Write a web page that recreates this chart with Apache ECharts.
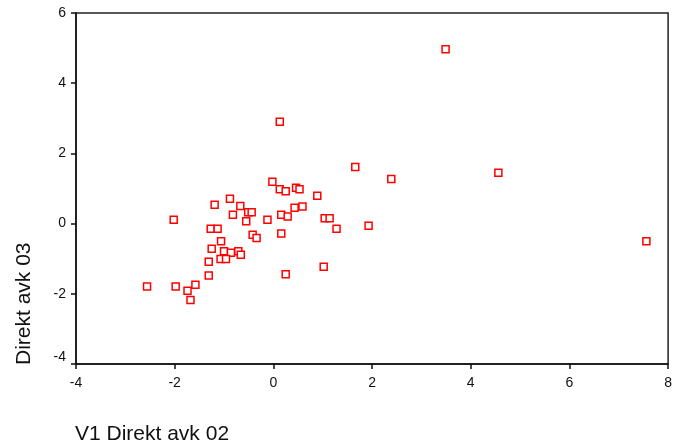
<!DOCTYPE html>
<html>
<head>
<meta charset="utf-8">
<script src="https://cdn.jsdelivr.net/npm/echarts@6/dist/echarts.min.js"></script>
<style>html,body{margin:0;padding:0;background:#fff}#c{width:675px;height:445px}</style>
</head>
<body>
<div id="c"></div>
<script>
var xName = 'V1 Direkt avk 02';
var yName = 'Direkt avk 03';
var xValues = [-0.02,0.13,0.25,-0.88,-1.19,-0.67,-0.82,-0.51,-0.44,0.16,0.29,-2.02,-0.55,-0.12,-1.27,-1.13,-0.42,-0.34,0.16,-1.06,-1.25,-1.00,-0.86,-0.71,-0.66,-1.07,-0.96,-1.31,-1.31,0.25,-2.56,-1.98,-1.58,-1.74,-1.68,0.13,1.66,2.39,0.46,0.53,0.89,0.43,0.59,1.04,1.14,1.28,1.93,1.02,3.49,4.56,7.56];
var yValues = [1.19,0.98,0.92,0.71,0.54,0.50,0.25,0.32,0.32,0.25,0.20,0.11,0.07,0.11,-0.15,-0.15,-0.32,-0.41,-0.28,-0.50,-0.72,-0.79,-0.83,-0.79,-0.89,-1.01,-1.01,-1.09,-1.48,-1.44,-1.79,-1.79,-1.74,-1.91,-2.18,2.90,1.61,1.27,1.02,0.98,0.79,0.45,0.49,0.15,0.15,-0.15,-0.06,-1.23,4.97,1.45,-0.50];
var xTicks = [-4,-2,0,2,4,6,8];
var yTicks = [-4,-2,0,2,4,6];

var pts = xValues.map(function(x,i){return [x,yValues[i]];});
var chart = echarts.init(document.getElementById('c'), null, {renderer:'canvas'});
var font = 'Liberation Sans, Arial, sans-serif';
chart.setOption({
  animation:false,
  backgroundColor:'#fff',
  grid:{left:76,right:5,top:13,bottom:81,show:true,borderColor:'#222',borderWidth:1.5,backgroundColor:'transparent'},
  xAxis:{type:'value',min:xTicks[0],max:xTicks[xTicks.length-1],interval:2,
    axisLine:{show:true,onZero:false,lineStyle:{color:'#111',width:1.5}},
    axisTick:{show:true,length:5,lineStyle:{color:'#111',width:1.5}},
    axisLabel:{color:'#111',fontSize:14,fontFamily:font,margin:12},
    splitLine:{show:false}},
  yAxis:{type:'value',min:yTicks[0],max:yTicks[yTicks.length-1],interval:2,
    axisLine:{show:true,onZero:false,lineStyle:{color:'#111',width:1.5}},
    axisTick:{show:true,length:5,lineStyle:{color:'#111',width:1.5}},
    axisLabel:{color:'#111',fontSize:14,fontFamily:font,margin:10,
      formatter:function(v){return v===yTicks[0] ? '{lo|'+v+'}' : String(v);},
      rich:{lo:{fontSize:14,fontFamily:font,color:'#111',padding:[0,0,13,0]}}},
    splitLine:{show:false}},
  graphic:[
    {type:'text',x:75,y:434,style:{text:xName,fontSize:21,fontFamily:font,fill:'#111',align:'left',verticalAlign:'middle'}},
    {type:'text',x:24,y:365,rotation:Math.PI/2,style:{text:yName,fontSize:21,fontFamily:font,fill:'#111',align:'left',verticalAlign:'middle'}}
  ],
  series:[{type:'scatter',data:pts,symbol:'rect',symbolSize:7,
    itemStyle:{color:'#fff',borderColor:'#ff0000',borderWidth:1.5,opacity:1}}]
});
</script>
</body>
</html>
